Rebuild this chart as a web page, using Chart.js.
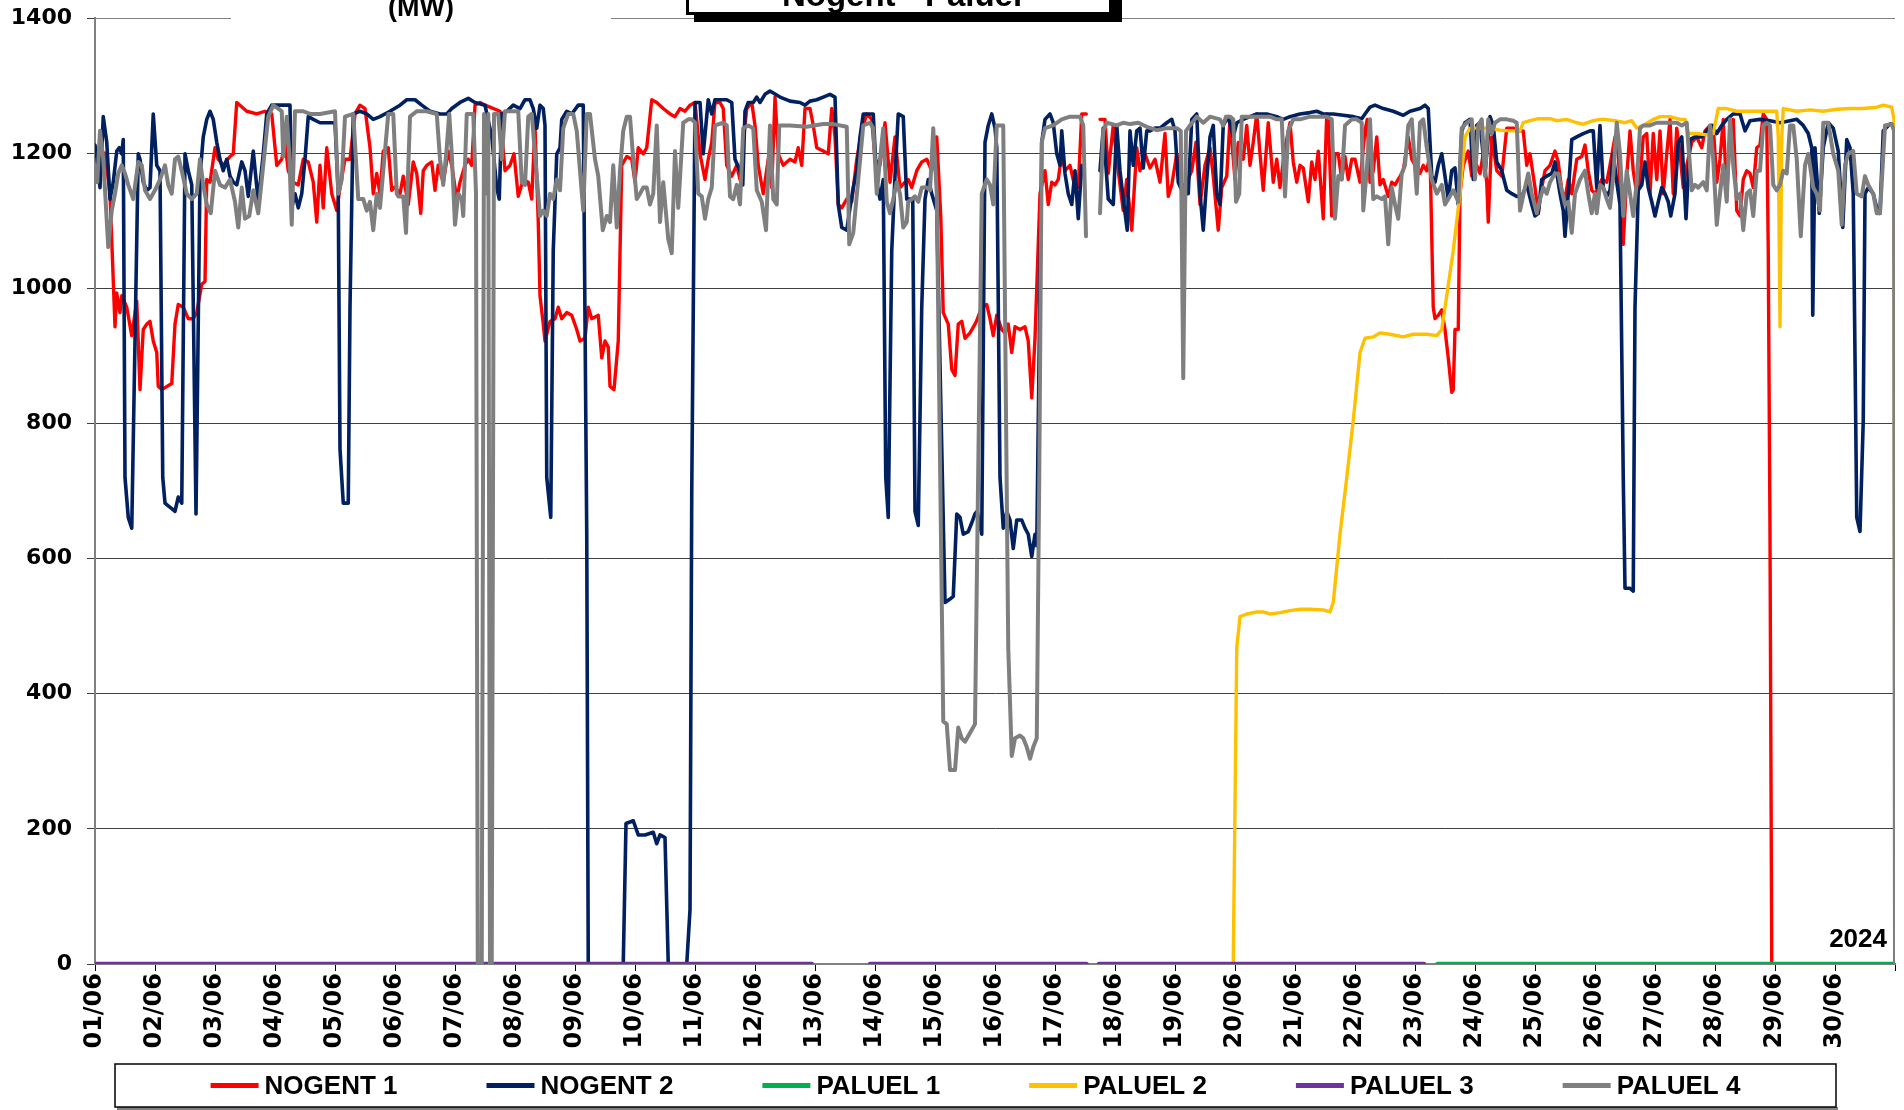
<!DOCTYPE html>
<html>
<head>
<meta charset="utf-8">
<title>Nogent - Paluel</title>
<script src="https://cdn.jsdelivr.net/npm/chart.js@4.4.1/dist/chart.umd.min.js"></script>
<style>
  html, body { margin: 0; padding: 0; background: #fff; }
  #wrap { width: 1904px; height: 1110px; position: relative; }
</style>
</head>
<body>
<div id="wrap"><canvas id="chart" width="1904" height="1110"></canvas></div>
<script>
// Tick labels (one per day, the axis runs in hours from 01/06 00:00 to 01/07 00:00)
const dayLabels = ['01/06', '02/06', '03/06', '04/06', '05/06', '06/06', '07/06', '08/06', '09/06', '10/06',
    '11/06', '12/06', '13/06', '14/06', '15/06', '16/06', '17/06', '18/06', '19/06', '20/06',
    '21/06', '22/06', '23/06', '24/06', '25/06', '26/06', '27/06', '28/06', '29/06', '30/06'];

const seriesNames = ['NOGENT 1', 'NOGENT 2', 'PALUEL 1', 'PALUEL 2', 'PALUEL 3', 'PALUEL 4'];
const seriesColors = ['#ff0000', '#002060', '#00b050', '#ffc000', '#7030a0', '#7f7f7f'];

const titleText = 'Nogent - Paluel';
const unitLabel = '(MW)';
const yearLabel = '2024';

// [hour since 01/06 00:00, MW]; null = no data
const nogent1 = [
    [0,1200],[2,1190],[4,1200],[6,1140],[8,943],[8.7,993],[10,964],[10.7,989],[12.7,972],[14.7,930],[16.7,981],[18,850],
    [19.3,939],[20.7,947],[22,951],[23.3,922],[24.7,905],[25.3,855],[26.7,850],[30.7,859],[32,947],[33.3,976],[35.3,972],
    [37.3,955],[39.3,955],[40.7,964],[42.7,1006],[44,1010],[44.7,1161],[46,1157],[48,1208],[49.3,1191],[51.3,1182],[54,1195],
    [55.3,1199],[56.7,1275],[60.7,1262],[64.7,1258],[68,1262],[70.7,1258],[72.7,1182],[74.7,1191],[76,1216],[77.3,1174],
    [79.3,1157],[81.3,1153],[83.3,1191],[85.3,1187],[87.3,1157],[88.7,1098],[90,1182],[91.3,1119],[92.7,1208],[94.7,1140],
    [96.7,1115],[98,1149],[100,1191],[102,1191],[104,1258],[106,1271],[108,1266],[110,1208],[111.3,1140],[112.7,1170],
    [114,1140],[115.3,1203],[117.3,1208],[118.7,1145],[120,1150],[122,1140],[123.3,1166],[125.3,1124],[127.3,1187],
    [128.7,1170],[130.3,1111],[131.3,1174],[132.7,1182],[134.7,1187],[136,1145],[137.3,1182],[139.3,1157],[141.3,1203],
    [142.7,1182],[144.7,1132],[146,1157],[148,1182],[149.3,1191],[150.7,1182],[152,1271],[154,1275],[156,1271],[158,1268],
    [162,1262],[164,1174],[166,1182],[167.6,1199],[169.3,1136],[171.3,1161],[173.3,1157],[174.7,1132],[176,1241],[177.3,1098],
    [178,989],[179.3,947],[180,922],[182,951],[184,955],[185.3,972],[186.7,955],[188.7,964],[190.7,960],[192.7,939],[194,922],
    [196,926],[197.3,972],[198.7,955],[201.3,960],[202.7,897],[204,922],[205.3,913],[206,855],[207.6,850],[209.3,922],
    [210.7,1182],[212.7,1195],[214.7,1191],[216,1157],[217.3,1208],[219.3,1199],[220.7,1208],[222.7,1279],[224.7,1275],
    [227.3,1266],[230,1258],[232,1254],[234,1266],[236,1262],[238,1271],[240,1275],[242,1199],[244,1161],[245.3,1191],
    [246.7,1216],[248,1275],[250,1275],[251.3,1266],[252.7,1182],[254.7,1166],[256.7,1182],[258,1161],[259.3,1216],
    [260.7,1266],[262.7,1275],[264,1241],[265.3,1182],[267.3,1140],[269.3,1191],[270.7,1149],[272,1283],[273.3,1199],
    [275.3,1182],[278,1191],[280,1187],[281.3,1208],[282.7,1182],[284,1266],[286,1266],[287.3,1241],[288.7,1208],[291.3,1203],
    [293.3,1199],[294.7,1266],[296,1224],[297.3,1124],[298.7,1119],[300.7,1132],[302.7,1128],[304.7,1191],[306.7,1233],
    [308.7,1258],[310.7,1250],[312,1191],[314,1182],[316,1245],[318,1157],[320,1224],[322,1149],[324,1157],[325.3,1161],
    [326.7,1149],[328.7,1174],[330.7,1187],[332.7,1191],[334.7,1174],[336.7,1224],[338.3,1107],[339.3,964],[341.3,947],
    [342.7,880],[344,871],[345.3,947],[346.7,951],[348,926],[350,934],[352,947],[353,955],[354.7,972],[356.7,976],[358,955],
    [359.3,930],[360.7,960],[362.7,939],[364,934],[365.3,947],[366.7,905],[368,943],[370,939],[372,943],[373.3,922],
    [374.7,838],[376,926],[378,1140],[380,1174],[381.3,1124],[382.7,1157],[384,1153],[385.3,1161],[386.7,1199],[388,1174],
    [390,1182],[392,1149],[393.3,1149],[394.7,1258],[396.5,1258],[399,null],[402,1250],[404,1250],[405.3,1170],[407.3,1241],
    [409.3,1174],[411.3,1115],[412.7,1161],[414.7,1086],[416.7,1208],[418,1174],[420,1199],[422,1178],[424,1191],[426,1157],
    [428,1229],[429.3,1136],[430.7,1153],[432.7,1199],[434.7,1149],[436.7,1157],[438.7,1174],[440.4,1216],[442,1124],
    [444,1182],[446,1208],[447.3,1166],[449.3,1086],[450.7,1149],[452.7,1166],[454,1250],[456,1161],[457.3,1216],[459.3,1191],
    [460.7,1241],[462,1182],[463.3,1216],[464.7,1258],[466,1199],[467.3,1145],[469.3,1245],[471.3,1157],[472.7,1191],
    [474,1149],[476,1208],[478,1245],[479.3,1187],[480.7,1157],[482,1182],[483.3,1178],[485.3,1128],[486.7,1187],[488,1161],
    [489.3,1203],[491.3,1103],[492.7,1258],[493.3,1250],[494.7,1107],[496,1199],[497.3,1199],[498.7,1161],[500,1195],
    [501.3,1161],[502.7,1191],[504,1191],[506,1157],[508,1233],[508.9,1250],[510,1157],[511.3,1174],[512.7,1224],[514,1153],
    [515.3,1161],[517.3,1136],[518.7,1157],[520,1153],[521.3,1161],[523.3,1174],[525.3,1224],[526.7,1191],[528,1182],
    [530,1170],[531.3,1182],[532.7,1174],[534,1199],[535.3,972],[536,955],[537.3,960],[538.7,968],[540,939],[541.3,897],
    [542.7,846],[543.3,850],[544,939],[545.3,939],[546,1140],[547.3,1182],[549.3,1203],[550.7,1166],[552.7,1182],[554,1170],
    [555.3,1199],[556.7,1157],[557.3,1098],[558.7,1224],[560.7,1174],[562.7,1166],[564.7,1237],[567.3,1237],[570,1233],
    [571.3,1233],[572.7,1182],[574,1199],[576,1149],[577.3,1111],[578.7,1149],[580,1174],[582,1182],[584,1203],[585.3,1187],
    [586.7,1145],[588,1132],[589.3,1161],[590.7,1140],[592.7,1191],[594.7,1195],[596,1212],[597.3,1174],[598.7,1145],
    [600,1140],[600.7,1145],[602.7,1161],[604.7,1157],[606,1182],[608,1224],[609.3,1199],[611.3,1065],[612.7,1166],
    [614,1233],[615.3,1174],[616.7,1140],[618,1161],[619.3,1224],[620.7,1229],[622,1140],[623.3,1229],[624.7,1161],
    [626,1233],[627.3,1140],[628.7,1199],[630,1250],[631.3,1140],[632.7,1237],[634,1199],[635.3,1149],[636.7,1182],
    [638.7,1216],[640.7,1224],[642.7,1208],[644,1233],[646,1241],[647.3,1241],[648.7,1157],[650,1191],[651.3,1250],
    [652.7,1140],[654,1224],[655.3,1250],[656.7,1115],[658,1107],[659.3,1161],[660.7,1174],[662,1170],[663.3,1149],
    [664.7,1208],[666,1212],[667.3,1258],[668.7,1250],[669.3,1056],[670,636],[670.7,0],[720,0]
];

const nogent2 = [
    [0,1212],[0.9,1191],[2,1149],[3.3,1254],[4.7,1216],[6,1132],[7.3,1157],[8.7,1203],[9.7,1208],[10.7,1199],[11.3,1220],
    [12,720],[13.3,661],[14.7,645],[17.3,1199],[18,1191],[19.3,1157],[20.7,1145],[22,1149],[23.3,1258],[24.7,1182],[26,1174],
    [27.1,720],[28,682],[29.3,678],[30.7,674],[32,670],[33.3,691],[34.7,682],[36,1199],[37.3,1174],[38.7,1153],[40.4,666],
    [42,1166],[43.3,1224],[44.7,1250],[46,1262],[47.3,1250],[48.7,1216],[50,1191],[51.3,1174],[52.7,1191],[54,1166],
    [55.3,1157],[56.7,1153],[58.7,1187],[60,1174],[61.3,1136],[63.3,1203],[65.3,1128],[67.3,1199],[68.7,1258],[70.7,1271],
    [74,1271],[78,1271],[78.7,1119],[80,1140],[81.3,1119],[82.7,1140],[84,1191],[85.3,1254],[87.3,1250],[90,1245],[94,1245],
    [96,1245],[97.3,1140],[98,762],[99.3,682],[101.3,682],[102,972],[103.3,1258],[106,1262],[108.7,1258],[111.3,1250],
    [114,1254],[118,1262],[122,1271],[124.7,1279],[128,1279],[130.7,1271],[134,1262],[138,1258],[140.7,1258],[142.7,1266],
    [146,1275],[149.3,1281],[152,1275],[156,1271],[158.7,1224],[160.7,1149],[161.7,1132],[162.7,1258],[164.7,1262],
    [167.3,1271],[170,1266],[172,1279],[174,1279],[175.3,1266],[176.7,1237],[178,1271],[179.3,1266],[180,1241],[180.7,720],
    [182.3,661],[183.3,1056],[184.7,1199],[186,1208],[186.7,1250],[188.7,1262],[190.7,1258],[193.3,1271],[195.3,1271],
    [196.7,636],[197.3,0],[211.3,0],[212.4,208],[215.3,212],[217.3,191],[220,191],[223.3,195],[224.7,178],[226,191],[228,187],
    [229.3,0],[236.7,0],[238,80],[238.7,700],[240,1275],[242,1275],[243.3,1199],[245.3,1279],[246.7,1258],[248,1279],
    [252.7,1279],[254.7,1275],[256,1191],[258,1174],[259.1,1153],[260,1262],[261.3,1275],[263.3,1275],[264.7,1283],[266,1275],
    [268,1287],[270,1292],[274,1283],[278,1277],[282,1275],[284,1271],[286,1277],[288.7,1279],[291.3,1283],[294,1287],
    [296,1283],[297.3,1124],[298.7,1090],[300.7,1086],[302,1119],[303.3,1149],[304.7,1174],[306,1224],[307.3,1258],
    [309.3,1258],[311.3,1258],[312.7,1157],[314,1132],[315.3,1161],[316.3,720],[317.3,661],[318.7,1056],[320,1166],
    [321.3,1258],[323.3,1254],[324.7,1132],[327.1,1132],[328,670],[329.3,649],[330.7,972],[332,1132],[333.3,1161],
    [334.7,1140],[336.7,1115],[340,535],[342,540],[343.3,544],[344.7,666],[346,661],[347.3,636],[349.3,640],[350.7,653],
    [352,666],[352.9,670],[354.7,636],[356,1216],[357.3,1241],[358.7,1258],[360,1237],[360.7,1208],[362,720],[363.3,645],
    [364.7,670],[366,657],[367.3,615],[368.7,657],[370.7,657],[372,645],[373.3,636],[374.7,603],[376,636],[376.7,619],
    [378.7,1216],[380,1250],[382,1258],[383.3,1245],[384.7,1199],[386,1182],[386.7,1233],[388,1170],[389.3,1140],[390.7,1124],
    [392,1174],[393.3,1103],[394.7,1182],[399,null],[402,1174],[403.3,1237],[405.3,1132],[407.3,1124],[408.7,1241],[410,1174],
    [411.3,1132],[412.9,1086],[414,1233],[415.3,1182],[416.7,1233],[418,1237],[419.3,1178],[420.7,1233],[422,1233],[424,1237],
    [426,1237],[428.7,1245],[430.7,1250],[432,1233],[433.3,1157],[435.3,1140],[437.3,1140],[438.7,1250],[440.7,1258],
    [442,1140],[443.3,1086],[444.7,1161],[446,1224],[447.3,1241],[448.7,1140],[450,1124],[451.3,1241],[453.3,1254],
    [455.3,1224],[456.7,1245],[459.3,1250],[462,1254],[464.7,1258],[468.7,1258],[472.7,1254],[475.3,1250],[478,1254],
    [482,1258],[486,1260],[488.7,1262],[491.3,1258],[495.3,1258],[499.3,1256],[503.3,1254],[506.7,1251],[508,1258],[510,1268],
    [512,1271],[515.3,1266],[519.3,1262],[523.3,1256],[526,1262],[530,1266],[532,1271],[533.3,1266],[534.7,1166],[536,1157],
    [537.3,1182],[538.7,1199],[540,1166],[541.3,1132],[542.7,1174],[544,1178],[545.3,1124],[546.7,1233],[548,1245],[550,1250],
    [551.3,1161],[552.7,1241],[554,1245],[556,1170],[558,1254],[559.3,1241],[560.7,1187],[562.7,1174],[564.7,1145],
    [566.7,1140],[568.7,1136],[570.7,1136],[572.7,1153],[574.7,1124],[576,1107],[577.3,1111],[578.7,1161],[580.7,1166],
    [582.7,1170],[584,1187],[586,1140],[587.3,1115],[588,1077],[589.3,1140],[590.7,1220],[592.7,1224],[595.3,1229],[598,1233],
    [599.3,1233],[600.7,1149],[602,1241],[603.3,1149],[604.7,1136],[606,1145],[607.3,1199],[608.7,1157],[610,1124],[611.3,720],
    [612,556],[614,556],[615.3,552],[616,972],[617.3,1145],[618.7,1153],[620,1187],[621.3,1149],[622.7,1128],[624,1107],
    [625.3,1128],[626.7,1149],[628,1140],[629.3,1128],[630.3,1107],[632,1140],[633.3,1216],[634.7,1224],[636.4,1103],
    [638,1220],[640,1224],[642.7,1224],[644.7,1233],[646.7,1241],[648.7,1229],[650.7,1241],[652.7,1250],[655.3,1258],
    [658,1258],[660,1233],[662,1248],[666,1250],[670,1248],[674,1245],[678,1248],[680.7,1250],[683.3,1241],[685.3,1229],
    [686.7,1208],[687.1,960],[688,1208],[689.7,1111],[691.3,1208],[693.3,1245],[695.3,1237],[697.3,1203],[699.1,1090],
    [700.7,1220],[702,1208],[703.3,1140],[704.7,661],[706,640],[707.3,804],[708,1140],[709.3,1149],[711.3,1140],[712.7,1119],
    [714,1111],[715.3,1233],[718,1243],[719.3,1243],[720,1224]
];

const paluel1 = [[537,0],[720,0]];

const paluel2 = [
    [455.3,0],[456.7,468],[458,514],[460.7,518],[464.7,521],[467.3,521],[470,518],[474,520],[478,523],[482,525],[486,525],
    [491.3,524],[494,521],[495.3,535],[498,636],[500.7,720],[503.3,804],[506,905],[508,926],[511.3,928],[514,934],[518,932],
    [523.3,928],[527.3,932],[532.7,932],[536.7,930],[538.7,939],[540.7,989],[543.3,1056],[546,1140],[548,1224],[550,1237],
    [554,1237],[558,1237],[562,1234],[566,1233],[570,1233],[571.3,1245],[574,1248],[577.3,1251],[582,1251],[584.7,1248],
    [588.7,1250],[592.7,1245],[595.3,1243],[599.3,1248],[602,1250],[604,1250],[608,1248],[612,1245],[614.7,1248],[616.7,1237],
    [619.3,1241],[623.3,1250],[626,1254],[630,1254],[634,1250],[636,1250],[637.3,1229],[640.7,1229],[644.7,1227],[647.3,1229],
    [649.3,1266],[652.7,1266],[656.7,1262],[660.7,1262],[664.7,1262],[668.7,1262],[672.7,1262],[673.3,1224],[674,943],
    [674.7,1224],[675.3,1266],[680.7,1262],[686,1264],[691.3,1262],[696.7,1265],[702,1266],[707.3,1266],[712.7,1268],
    [715.3,1271],[718.7,1268],[719.6,1250],[720,0]
];

const paluel3 = [[0,0],[286.7,0],[298,null],[310,0],[396.6,0],[399,null],[401.6,0],[531.6,0]];

const paluel4 = [
    [0,1182],[0.9,1157],[2,1233],[3.3,1191],[5.3,1061],[6.7,1115],[8,1140],[9.3,1170],[10.7,1182],[12,1170],[13.3,1153],
    [15.3,1132],[17.3,1187],[18.7,1182],[20,1145],[22,1132],[24,1145],[26,1161],[28,1182],[29.3,1153],[30.7,1140],[32,1191],
    [33.3,1195],[34.7,1174],[36.7,1140],[38.7,1132],[40.7,1140],[42,1191],[43.3,1153],[44.7,1124],[46.3,1111],[48,1174],
    [50,1153],[52,1149],[54,1161],[56,1128],[57.3,1090],[58.7,1149],[60,1103],[61.7,1107],[63.3,1145],[65.3,1111],[67.3,1182],
    [69.3,1254],[71.3,1271],[73.3,1266],[74.7,1262],[75.3,1195],[76.7,1254],[77.7,1199],[78.7,1094],[80,1262],[83.3,1262],
    [86,1258],[90,1258],[96,1262],[97.3,1140],[98.7,1161],[100,1254],[103.3,1258],[105.3,1132],[107.3,1132],[108.7,1115],
    [110,1128],[111.3,1086],[112.7,1140],[114,1119],[115.3,1174],[117.3,1258],[119.3,1258],[120.7,1140],[121.3,1136],
    [123.3,1136],[124.4,1082],[126,1254],[128.7,1262],[132.7,1262],[136.7,1258],[138,1191],[139.3,1153],[140.7,1208],
    [141.7,1258],[142.7,1199],[144,1094],[145.3,1140],[146.7,1132],[147.3,1107],[148.7,1258],[151.3,1258],[152.4,1140],
    [153.1,0],[154.7,0],[155.6,1258],[156.7,1140],[157.3,1258],[158,0],[158.7,0],[159.6,1258],[161.3,1258],[162.7,1191],
    [164,1262],[167.3,1262],[169.3,1262],[170.7,1157],[172,1153],[173.3,1254],[174.7,1258],[176.7,1166],[178,1107],
    [179.3,1115],[180.7,1107],[182,1140],[183.3,1132],[184.7,1161],[186,1145],[187.3,1237],[189.3,1258],[191.3,1258],
    [192.7,1233],[194,1174],[195.3,1115],[196.7,1258],[198,1258],[200,1191],[201.3,1166],[203.1,1086],[204.7,1107],[206,1098],
    [207.3,1182],[208.7,1090],[210,1174],[211.3,1233],[212.7,1254],[214,1254],[215.3,1191],[216.7,1132],[218,1140],
    [219.3,1149],[220.7,1149],[222,1124],[223.3,1140],[224.7,1241],[226,1098],[227.3,1157],[229.3,1073],[230.7,1052],
    [232,1203],[233.3,1119],[235.3,1245],[237.3,1250],[238.7,1250],[240,1245],[241.3,1140],[242.7,1136],[244,1103],
    [245.3,1132],[246.7,1149],[248,1241],[251.3,1245],[252.7,1241],[254,1136],[255.3,1132],[256.7,1153],[258,1124],
    [259.3,1237],[261.3,1241],[263.3,1237],[264.7,1145],[266.7,1128],[268.4,1086],[270,1241],[271.3,1132],[272.7,1124],
    [273.7,1241],[278,1241],[284.7,1239],[291.3,1243],[295.3,1243],[300.7,1239],[301.7,1065],[303.3,1082],[305.3,1161],
    [307.3,1241],[310,1245],[311.3,1237],[312.7,1140],[314,1191],[315.3,1237],[316.7,1128],[318,1111],[319.3,1132],
    [320.7,1157],[322,1140],[323.3,1090],[324.7,1098],[325.3,1128],[326.7,1132],[328,1136],[329.3,1128],[330.7,1149],
    [332.7,1149],[334,1145],[335.3,1237],[336.7,1140],[339.3,359],[340.7,355],[342,287],[344,287],[345.3,350],[346.7,334],
    [348,329],[350,342],[352,355],[354.7,1140],[356.7,1161],[358,1153],[359.3,1124],[360.7,1241],[363.3,1241],[365.3,468],
    [366.7,308],[368,334],[370,338],[371.3,334],[372.7,321],[374,304],[375.3,321],[376.7,334],[377.7,720],[378.7,1216],
    [380,1237],[383.3,1241],[386.7,1250],[390,1254],[394,1254],[395.3,1241],[396.4,1077],[399,null],[402,1111],[403.3,1233],
    [404.7,1245],[408.7,1241],[411.3,1245],[414,1243],[417.3,1245],[420.7,1239],[424.7,1234],[428.7,1237],[432.7,1237],
    [434.3,1233],[435.3,867],[436.4,1233],[438,1241],[440.7,1254],[443.3,1245],[446,1254],[450,1250],[451.3,1241],
    [452.4,1254],[454,1254],[455.3,1250],[456.4,1128],[457.7,1140],[458.7,1254],[462,1254],[466,1254],[470,1254],
    [472.7,1250],[474.7,1250],[476,1136],[477.3,1233],[479.3,1250],[482,1250],[486,1254],[490,1254],[492.7,1254],
    [494.7,1250],[496,1103],[497.3,1166],[498.7,1161],[500,1241],[502.7,1250],[504.7,1250],[506.7,1245],[507.3,1115],
    [508.7,1174],[510,1250],[511.3,1132],[512.7,1136],[514.7,1132],[516,1136],[517.3,1065],[518.7,1149],[520,1124],
    [521.3,1103],[522.7,1170],[524,1182],[525.3,1241],[526.7,1250],[528.7,1140],[530,1245],[531.3,1250],[532.7,1208],
    [534.7,1161],[536.7,1140],[538.7,1153],[540,1124],[541.3,1132],[543.3,1145],[545.3,1128],[546.7,1237],[548.7,1245],
    [550.7,1250],[552,1161],[553.3,1241],[554.7,1250],[556,1166],[557.3,1250],[558.7,1229],[560,1245],[562,1250],[564.7,1250],
    [567.3,1248],[568.7,1245],[570,1115],[572,1149],[573.3,1170],[574.7,1140],[576.7,1111],[578,1132],[579.3,1149],
    [580.7,1140],[582,1157],[584,1170],[585.3,1170],[586.7,1145],[588,1124],[589.3,1128],[590.7,1082],[592,1140],[594,1161],
    [596,1174],[597.3,1140],[598.7,1111],[600,1140],[600.7,1111],[602,1153],[603.3,1149],[604.7,1132],[606,1119],
    [607.3,1166],[608.7,1245],[610,1199],[611.3,1107],[612.7,1174],[614,1140],[615.3,1107],[616.7,1157],[618,1237],
    [619.3,1241],[622,1241],[624.7,1245],[628.7,1245],[632.7,1245],[634.7,1241],[636.7,1245],[638.7,1145],[640,1153],
    [641.3,1149],[643.3,1157],[644.7,1145],[646,1241],[647.3,1191],[648.7,1094],[650,1140],[651.3,1182],[652.7,1128],
    [654,1250],[655.3,1182],[656.7,1132],[658,1140],[659.3,1086],[660.7,1140],[662,1145],[663.3,1107],[664.7,1174],
    [666,1174],[667.3,1241],[668.7,1245],[670,1241],[671.3,1153],[672.7,1145],[674,1153],[675.3,1174],[676.7,1170],
    [678,1241],[679.3,1241],[680.7,1191],[682.3,1077],[684,1182],[685.3,1199],[687.3,1149],[688.7,1140],[690,1115],
    [691.3,1245],[693.3,1245],[695.3,1199],[697.3,1174],[698.7,1094],[700,1182],[701.3,1199],[703.3,1203],[704.7,1140],
    [706.7,1136],[708,1166],[709.3,1153],[711.3,1140],[712.7,1111],[714,1111],[716,1241],[718.7,1243],[719.6,1233],[720,0]
];

const seriesData = [nogent1, nogent2, paluel1, paluel2, paluel3, paluel4];
const seriesWidths = [3.4, 3.6, 4.5, 3.4, 4.5, 4];

const FONT_ARIAL = '"Liberation Sans", Arial, sans-serif';
const FONT_VERDANA = '"DejaVu Sans", Verdana, sans-serif';

// Title, unit, year and the boxed legend drawn on top of the chart
const decorations = {
    id: 'decorations',
    afterDraw(chart) {
        const ctx = chart.ctx;
        const area = chart.chartArea;
        ctx.save();

        // unit label sits on a white patch that hides the top grid line
        ctx.fillStyle = '#fff';
        ctx.fillRect(231, 8, 380, 20);
        ctx.fillStyle = '#000';
        ctx.font = 'bold 27px ' + FONT_ARIAL;
        ctx.textAlign = 'center';
        ctx.textBaseline = 'alphabetic';
        ctx.fillText(unitLabel, 421, 16);

        // title box, mostly cut off by the top edge
        ctx.fillStyle = '#000';
        ctx.fillRect(694, -10, 428, 32);
        ctx.fillStyle = '#fff';
        ctx.fillRect(687, -10, 424, 23);
        ctx.strokeStyle = '#000';
        ctx.lineWidth = 3;
        ctx.strokeRect(687.5, -10, 423, 23.5);
        ctx.fillStyle = '#000';
        ctx.font = 'bold 33px ' + FONT_ARIAL;
        ctx.fillText(titleText, 902, 6);

        // year
        ctx.font = 'bold 26px ' + FONT_ARIAL;
        ctx.textAlign = 'right';
        ctx.fillText(yearLabel, area.right - 8, area.bottom - 17);

        // legend
        const lx = 115, ly = 1064, lw = 1721, lh = 43;
        ctx.fillStyle = '#808080';
        ctx.fillRect(lx + 2, ly + lh, lw, 3);
        ctx.fillStyle = '#fff';
        ctx.fillRect(lx, ly, lw, lh);
        ctx.strokeStyle = '#000';
        ctx.lineWidth = 1.5;
        ctx.strokeRect(lx, ly, lw, lh);

        ctx.font = 'bold 26px ' + FONT_ARIAL;
        const sampleW = 48, gap = 6, itemGap = 89;
        const widths = seriesNames.map(n => sampleW + gap + ctx.measureText(n).width);
        const total = widths.reduce((a, b) => a + b, 0) + itemGap * (seriesNames.length - 1);
        let x = lx + lw / 2 - total / 2;
        const cy = ly + lh / 2;
        ctx.textAlign = 'left';
        ctx.textBaseline = 'middle';
        seriesNames.forEach((name, i) => {
            ctx.fillStyle = seriesColors[i];
            ctx.fillRect(x, cy - 2.5, sampleW, 5);
            ctx.fillStyle = '#000';
            ctx.fillText(name, x + sampleW + gap, cy + 1);
            x += widths[i] + itemGap;
        });
        ctx.restore();
    }
};

// keep the plot area where the reference has it: no extra room for half labels
function noEdgePadding(scale) {
    scale.paddingLeft = 0;
    scale.paddingRight = 0;
    scale.paddingTop = 0;
    scale.paddingBottom = 0;
}

const chart = new Chart(document.getElementById('chart'), {
    type: 'line',
    data: {
        datasets: seriesNames.map((name, i) => ({
            label: name,
            data: seriesData[i].map(p => ({ x: p[0], y: p[1] })),
            borderColor: seriesColors[i],
            backgroundColor: seriesColors[i],
            borderWidth: seriesWidths[i],
            borderJoinStyle: 'round',
            borderCapStyle: 'round',
            pointRadius: 0,
            tension: 0,
            spanGaps: false,
            // later series are painted over earlier ones
            order: seriesNames.length - i
        }))
    },
    options: {
        responsive: false,
        animation: false,
        devicePixelRatio: 1,
        layout: { padding: { top: 18, right: 9, bottom: 50, left: 0 } },
        plugins: {
            legend: { display: false },
            tooltip: { enabled: false }
        },
        scales: {
            x: {
                type: 'linear',
                min: 0,
                max: 720,
                ticks: {
                    stepSize: 24,
                    autoSkip: false,
                    minRotation: 90,
                    maxRotation: 90,
                    padding: 2,
                    color: '#000',
                    font: { family: FONT_VERDANA, weight: 'bold', size: 24 },
                    callback: (value, index) => dayLabels[index] || ''
                },
                grid: {
                    drawOnChartArea: false,
                    drawTicks: true,
                    tickLength: 7,
                    tickColor: '#000',
                    tickWidth: 1
                },
                border: { color: '#808080', width: 2 },
                afterFit: scale => { scale.height = 96; noEdgePadding(scale); }
            },
            y: {
                min: 0,
                max: 1400,
                ticks: {
                    stepSize: 200,
                    padding: 15,
                    color: '#000',
                    font: { family: FONT_VERDANA, weight: 'bold', size: 22 },
                    callback: value => String(value)
                },
                grid: {
                    color: ctx => ctx.tick && ctx.tick.value === 1400 ? '#808080' : '#404040',
                    lineWidth: 1,
                    tickLength: 8,
                    tickColor: '#404040'
                },
                border: { color: '#808080', width: 2 },
                afterFit: scale => { scale.width = 95; noEdgePadding(scale); }
            }
        }
    },
    plugins: [decorations]
});
</script>
</body>
</html>
